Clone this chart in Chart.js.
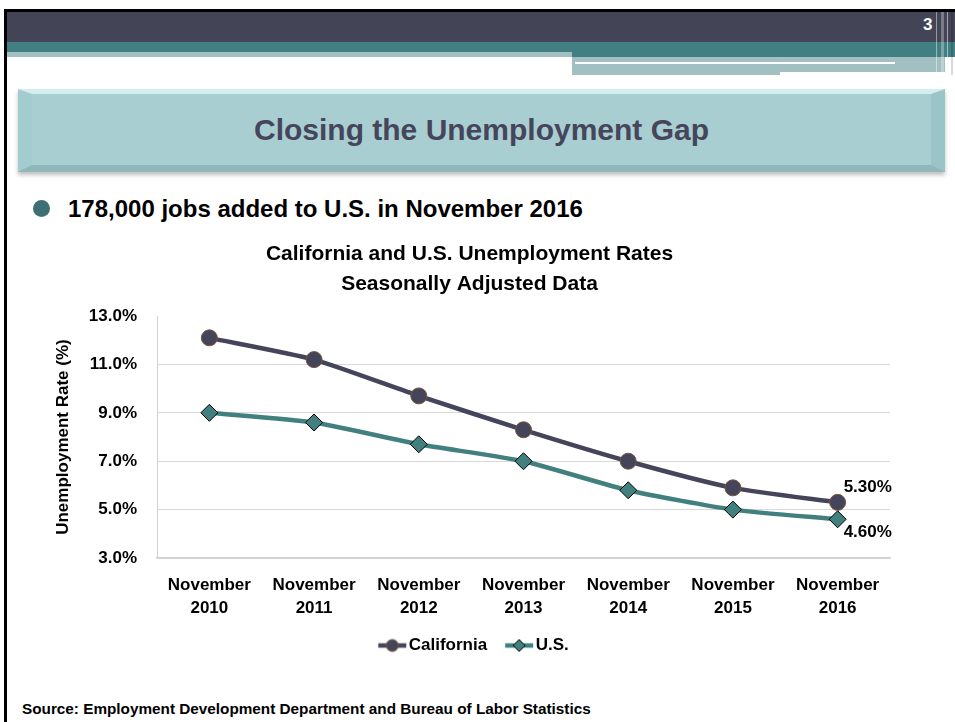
<!DOCTYPE html>
<html>
<head>
<meta charset="utf-8">
<script src="https://cdn.jsdelivr.net/npm/chart.js@4.4.0/dist/chart.umd.min.js"></script>
<style>
  html, body { margin: 0; padding: 0; background: #fff; }
  body { width: 955px; height: 722px; position: relative; overflow: hidden; font-family: "Liberation Sans", Arial, sans-serif; }
  .abs { position: absolute; }
  #titleBox {
    left: 18px; top: 89px; width: 927px; height: 83px; box-sizing: border-box;
    background: #a9ced1;
    border-style: solid; border-width: 5px 14px 7px 14px;
    border-color: #d3eef0 #9ac4c7 #90b7ba #a3cccf;
    box-shadow: 0 3px 4px rgba(0,0,0,0.25);
    display: flex; align-items: center; justify-content: center;
    color: #45455b; font-weight: bold; font-size: 30px;
  }
  #bullet { left: 33px; top: 200px; width: 17px; height: 17px; border-radius: 50%; background: #3e6f74; }
  #headline { left: 68px; top: 197px; font-size: 24px; line-height: 24px; font-weight: bold; color: #000; white-space: nowrap; }
  #source { left: 22px; top: 701px; font-size: 15.3px; line-height: 15px; font-weight: bold; color: #000; white-space: nowrap; }
  #pageNo { left: 923px; top: 16px; font-size: 17px; line-height: 17px; font-weight: bold; color: #fff; }
  #chartBox { left: 0; top: 220px; width: 955px; height: 470px; }
</style>
</head>
<body>
<!-- slide frame -->
<div class="abs" style="left:4px;top:9px;width:951px;height:3px;background:#000"></div>
<div class="abs" style="left:4px;top:9px;width:3px;height:713px;background:#000"></div>
<div class="abs" style="left:7px;top:12px;width:948px;height:30px;background:#444457"></div>
<div class="abs" style="left:7px;top:42px;width:948px;height:10px;background:#427f82"></div>
<div class="abs" style="left:572px;top:52px;width:383px;height:5px;background:#427f82"></div>
<div class="abs" style="left:7px;top:52px;width:565px;height:5px;background:#a2bfc2"></div>
<div class="abs" style="left:572px;top:57px;width:373px;height:18px;background:#a2bfc2"></div>
<div class="abs" style="left:575px;top:62px;width:320px;height:2px;background:#fff"></div>
<div class="abs" style="left:780px;top:72px;width:165px;height:3px;background:#fff"></div>
<div class="abs" style="left:936px;top:12px;width:1px;height:63px;background:rgba(255,255,255,0.45)"></div>
<div class="abs" style="left:941px;top:12px;width:3px;height:63px;background:rgba(255,255,255,0.3)"></div>
<div class="abs" style="left:947px;top:12px;width:1px;height:63px;background:rgba(255,255,255,0.5)"></div>
<div class="abs" style="left:951px;top:12px;width:2px;height:63px;background:rgba(0,0,0,0.15)"></div>
<div class="abs" id="pageNo">3</div>

<div class="abs" id="titleBox">Closing the Unemployment Gap</div>
<div class="abs" id="bullet"></div>
<div class="abs" id="headline">178,000 jobs added to U.S. in November 2016</div>

<div class="abs" id="chartBox"><canvas id="chart"></canvas></div>

<div class="abs" id="source">Source: Employment Development Department and Bureau of Labor Statistics</div>

<script>
// chart data
const periods = ['November 2010', 'November 2011', 'November 2012', 'November 2013',
                 'November 2014', 'November 2015', 'November 2016'];
const california = [12.1, 11.2, 9.7, 8.3, 7.0, 5.9, 5.3];
const usRate = [9.0, 8.6, 7.7, 7.0, 5.8, 5.0, 4.6];
const seriesNames = ['California', 'U.S.'];
const yMin = 3, yMax = 13, yStep = 2;

const caColor = '#44445a';
const usColor = '#428080';
const fontFamily = '"Liberation Sans", Arial, sans-serif';

Chart.defaults.font.family = fontFamily;

function legendIcon(color, style, border) {
    const c = document.createElement('canvas');
    c.width = 44;
    c.height = 18;
    const g = c.getContext('2d');
    g.strokeStyle = color;
    g.lineWidth = 4.5;
    g.beginPath();
    g.moveTo(15, 9);
    g.lineTo(43, 9);
    g.stroke();
    g.fillStyle = color;
    g.strokeStyle = border;
    g.lineWidth = 1;
    g.beginPath();
    if (style === 'circle') {
        g.arc(29, 9, 6, 0, Math.PI * 2);
    } else {
        g.moveTo(29, 3); g.lineTo(35, 9); g.lineTo(29, 15); g.lineTo(23, 9); g.closePath();
    }
    g.fill();
    g.stroke();
    return c;
}

// value labels next to the last points
const endLabels = {
    id: 'endLabels',
    afterDatasetsDraw(chart) {
        const ctx = chart.ctx;
        ctx.save();
        ctx.font = 'bold 17px ' + fontFamily;
        ctx.fillStyle = '#000';
        ctx.textAlign = 'left';
        ctx.textBaseline = 'middle';
        chart.data.datasets.forEach((ds, i) => {
            const meta = chart.getDatasetMeta(i);
            const pt = meta.data[meta.data.length - 1];
            const val = ds.data[ds.data.length - 1];
            const dy = i === 0 ? -15 : 13;
            ctx.fillText(val.toFixed(2) + '%', pt.x + 6, pt.y + dy);
        });
        ctx.restore();
    }
};

const ctx = document.getElementById('chart').getContext('2d');
new Chart(ctx, {
    type: 'line',
    data: {
        labels: periods.map(p => p.split(' ')),
        datasets: [{
            label: seriesNames[0],
            data: california,
            borderColor: caColor,
            backgroundColor: caColor,
            borderWidth: 4.5,
            pointRadius: 8,
            pointHoverRadius: 8,
            pointBackgroundColor: caColor,
            pointBorderColor: '#7a5538',
            pointBorderWidth: 1,
            tension: 0.2,
            order: 1
        }, {
            label: seriesNames[1],
            data: usRate,
            borderColor: usColor,
            backgroundColor: usColor,
            borderWidth: 4.5,
            pointStyle: 'rectRot',
            pointRadius: 8.5,
            pointHoverRadius: 8.5,
            pointBackgroundColor: usColor,
            pointBorderColor: '#000',
            pointBorderWidth: 1,
            tension: 0.2,
            order: 0
        }]
    },
    options: {
        responsive: true,
        maintainAspectRatio: false,
        animation: false,
        devicePixelRatio: 1,
        layout: {
            padding: { left: 49, right: 65, top: 0, bottom: 26 }
        },
        plugins: {
            title: {
                display: true,
                text: ['California and U.S. Unemployment Rates', 'Seasonally Adjusted Data'],
                color: '#000',
                font: { size: 21, weight: 'bold', lineHeight: 1.43 },
                padding: { top: 19, bottom: 17 }
            },
            legend: {
                position: 'bottom',
                labels: {
                    usePointStyle: true,
                    pointStyleWidth: 30,
                    color: '#000',
                    padding: 10,
                    font: { size: 17, weight: 'bold' },
                    generateLabels: () => [
                        { text: seriesNames[0], pointStyle: legendIcon(caColor, 'circle', '#7a5538'), lineWidth: 0, hidden: false, datasetIndex: 0 },
                        { text: seriesNames[1], pointStyle: legendIcon(usColor, 'diamond', '#000'), lineWidth: 0, hidden: false, datasetIndex: 1 }
                    ]
                }
            },
            tooltip: { enabled: false }
        },
        scales: {
            x: {
                offset: true,
                grid: { display: false, drawTicks: false },
                border: { display: true, color: '#d0d0d0', width: 1.5 },
                ticks: {
                    color: '#000',
                    padding: 15.5,
                    maxRotation: 0,
                    font: { size: 17, weight: 'bold', lineHeight: 1.35 }
                },
                afterFit: (scale) => { scale.height = 69; }
            },
            y: {
                min: yMin,
                max: yMax,
                grid: {
                    drawTicks: false,
                    color: (c) => (c.tick && c.tick.value === yMax) ? 'rgba(0,0,0,0)' : '#d9d9d9'
                },
                border: { display: true, color: '#d0d0d0', width: 1 },
                ticks: {
                    stepSize: yStep,
                    color: '#000',
                    padding: 20,
                    font: { size: 17, weight: 'bold' },
                    callback: (v) => v.toFixed(1) + '%'
                },
                title: {
                    display: true,
                    text: 'Unemployment Rate (%)',
                    color: '#000',
                    font: { size: 17, weight: 'bold' },
                    padding: { top: 4, bottom: 0 }
                },
                afterFit: (scale) => { scale.width = 108; }
            }
        }
    },
    plugins: [endLabels]
});
</script>
</body>
</html>
